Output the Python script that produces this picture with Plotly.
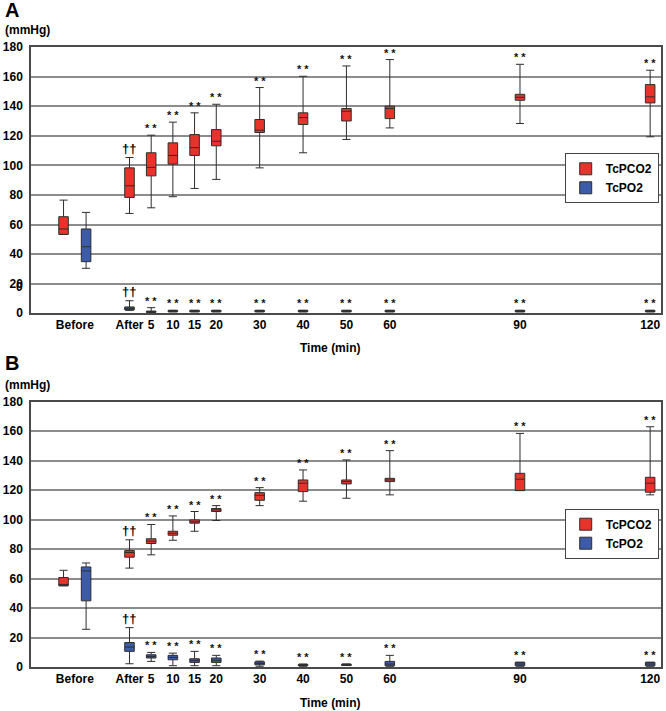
import plotly.graph_objects as go

# ---------------- data ----------------
categories = ["Before", "After", "5", "10", "15", "20", "30", "40", "50", "60", "90", "120"]
time_pos = [-12.6, 0, 5, 10, 15, 20, 30, 40, 50, 60, 90, 120]   # minutes (After = 0)

# Panel A  -- TcPCO2
a_pco2_lo  = [53.3, 67.5, 71.3, 78.8, 84.4, 90.5, 98.3, 108.5, 117.5, 125.3, 128.3, 119.3]
a_pco2_q1  = [53.3, 78.3, 92.9, 100.8, 106.7, 113.2, 122.2, 127.6, 130.0, 131.6, 144.0, 142.2]
a_pco2_med = [57.0, 86.2, 98.6, 106.7, 112.0, 116.3, 123.8, 132.3, 136.6, 138.4, 146.0, 146.3]
a_pco2_q3  = [65.3, 98.3, 108.5, 115.2, 120.8, 124.2, 131.0, 135.5, 138.4, 140.0, 148.0, 154.6]
a_pco2_hi  = [76.5, 105.3, 120.4, 129.2, 135.5, 141.3, 152.6, 160.2, 167.2, 171.5, 168.3, 164.3]

# Panel A  -- TcPO2
a_po2_lo  = [30.4, 2.0, 0.3, 1.0, 1.0, 1.0, 1.0, 1.0, 1.0, 1.0, 1.0, 1.0]
a_po2_q1  = [34.9, 2.3, 0.6, 1.0, 1.0, 1.0, 1.0, 1.0, 1.0, 1.0, 1.0, 1.0]
a_po2_med = [45.0, 3.3, 1.0, 1.5, 1.5, 1.5, 1.5, 1.5, 1.5, 1.5, 1.5, 1.5]
a_po2_q3  = [57.0, 4.3, 1.5, 2.0, 2.0, 2.0, 2.0, 2.0, 2.0, 2.0, 2.0, 2.0]
a_po2_hi  = [68.2, 8.5, 3.8, 2.0, 2.0, 2.0, 2.0, 2.0, 2.0, 2.0, 2.0, 2.0]

# Panel B  -- TcPCO2
b_pco2_lo  = [55.1, 67.1, 76.1, 86.0, 92.1, 99.4, 109.5, 112.5, 114.5, 116.8, 119.7, 116.8]
b_pco2_q1  = [55.1, 74.5, 83.8, 89.4, 97.6, 105.5, 113.1, 119.0, 124.2, 125.8, 119.7, 118.6]
b_pco2_med = [56.0, 77.7, 85.4, 90.8, 98.5, 106.6, 116.5, 124.7, 125.8, 126.9, 127.4, 124.7]
b_pco2_q3  = [60.7, 79.0, 87.0, 92.1, 99.8, 107.5, 118.3, 126.9, 126.9, 128.0, 131.4, 128.7]
b_pco2_hi  = [65.6, 86.3, 96.7, 102.5, 105.5, 109.5, 121.7, 133.7, 140.5, 146.8, 158.5, 163.0]

# Panel B  -- TcPO2
b_po2_lo  = [25.6, 2.2, 3.8, 0.9, 0.9, 0.9, 0.5, 0.5, 1.0, 0.5, 0.5, 0.5]
b_po2_q1  = [44.9, 10.6, 6.1, 4.9, 3.1, 3.1, 1.5, 0.9, 1.0, 0.8, 0.8, 0.8]
b_po2_med = [65.2, 13.5, 7.2, 6.5, 4.3, 4.5, 2.5, 1.3, 1.5, 2.0, 2.0, 2.0]
b_po2_q3  = [67.9, 16.6, 8.3, 7.9, 5.6, 6.1, 3.5, 1.8, 2.0, 3.8, 3.2, 3.2]
b_po2_hi  = [70.6, 26.7, 9.9, 9.4, 10.6, 7.9, 4.0, 2.0, 2.0, 7.9, 3.2, 3.2]

# significance marks
sig_marks = ["", "††", "**", "**", "**", "**", "**", "**", "**", "**", "**", "**"]

y_ticks = [0, 20, 40, 60, 80, 100, 120, 140, 160, 180]

# ---------------- style ----------------
RED = "#e8322a"
BLUE = "#3c5ba8"
EDGE = "#2e2e2e"
FONT = "Liberation Sans, Arial, sans-serif"
BEFORE_OFFSET = 2.6
BOX_W = 2.2

def xs(series):
    out = []
    for cat, p in zip(categories, time_pos):
        if cat == "Before":
            out.append(p - BEFORE_OFFSET if series == "pco2" else p + BEFORE_OFFSET)
        else:
            out.append(p)
    return out

fig = go.Figure()

panels = [
    ("x", "y", "legend", (a_pco2_lo, a_pco2_q1, a_pco2_med, a_pco2_q3, a_pco2_hi),
     (a_po2_lo, a_po2_q1, a_po2_med, a_po2_q3, a_po2_hi)),
    ("x2", "y2", "legend2", (b_pco2_lo, b_pco2_q1, b_pco2_med, b_pco2_q3, b_pco2_hi),
     (b_po2_lo, b_po2_q1, b_po2_med, b_po2_q3, b_po2_hi)),
]

annotations = []
for xa, ya, lg, pco2, po2 in panels:
    for name, series, vals, col in (("TcPCO2", "pco2", pco2, RED), ("TcPO2", "po2", po2, BLUE)):
        lo, q1, med, q3, hi = vals
        xv = xs(series)
        fig.add_trace(go.Box(
            name=name, x=xv, lowerfence=lo, q1=q1, median=med, q3=q3, upperfence=hi,
            fillcolor=col, line=dict(color=EDGE, width=1), width=BOX_W, whiskerwidth=0.85,
            boxpoints=False, xaxis=xa, yaxis=ya, legend=lg, showlegend=True,
            hoverinfo="skip",
        ))
        for x0, top, mark in zip(xv, hi, sig_marks):
            if not mark:
                continue
            if mark == "**":
                annotations.append(dict(x=x0, y=top, xref=xa, yref=ya, text="* *",
                                        showarrow=False, yanchor="bottom", yshift=-1,
                                        font=dict(family=FONT, size=11, color="#111", weight="bold")))
            else:
                annotations.append(dict(x=x0, y=top, xref=xa, yref=ya, text=mark,
                                        showarrow=False, yanchor="bottom", yshift=0,
                                        font=dict(family=FONT, size=13, color="#000", weight="bold")))

# panel labels / units / axis titles
W_PLOT = 633.0
H_PLOT = 620.0
def px_x(p):
    return (p - 30) / W_PLOT
def px_y(p):
    return (667 - p) / H_PLOT

for lab, yl, yu in (("A", 10, 30), ("B", 363, 385)):
    annotations.append(dict(x=px_x(2), y=px_y(yl), xref="paper", yref="paper", text=lab,
                            showarrow=False, xanchor="left", yanchor="middle",
                            font=dict(family=FONT, size=20, color="#000", weight="bold")))
    annotations.append(dict(x=px_x(2), y=px_y(yu), xref="paper", yref="paper", text="(mmHg)",
                            showarrow=False, xanchor="left", yanchor="middle",
                            font=dict(family=FONT, size=12, color="#000", weight="bold")))
for yt in (348, 703):
    annotations.append(dict(x=px_x(330), y=px_y(yt), xref="paper", yref="paper", text="Time (min)",
                            showarrow=False, xanchor="center", yanchor="middle",
                            font=dict(family=FONT, size=12, color="#000", weight="bold")))

# overlapping "0" on the "20" label of panel A (axis-break remnant)
annotations.append(dict(x=0, y=20, xref="paper", yref="y", text="0", showarrow=False,
                        xanchor="right", yanchor="middle", xshift=-6, yshift=-3,
                        font=dict(family=FONT, size=12, color="#000", weight="bold")))

axis_common = dict(
    showline=True, mirror=True, linecolor="#4a4a4a", linewidth=1.5,
    zeroline=False, ticks="",
    tickfont=dict(family=FONT, size=12, color="#000", weight="bold"),
)
xaxis_common = dict(axis_common, range=[-22.7, 122.5], tickmode="array",
                    tickvals=time_pos, ticktext=categories, showgrid=False)
yaxis_common = dict(axis_common, range=[0, 180], tickmode="array", tickvals=y_ticks,
                    ticktext=[str(v) for v in y_ticks], showgrid=True,
                    gridcolor="#8c8c8c", gridwidth=1.5, ticklabelstandoff=4)

legend_common = dict(
    bgcolor="white", bordercolor="#444", borderwidth=1,
    font=dict(family=FONT, size=12, color="#000", weight="bold"),
    xanchor="right", yanchor="top", x=(660.7 - 30) / W_PLOT,
    tracegroupgap=0, itemwidth=30,
)

fig.update_layout(
    width=666, height=711,
    margin=dict(l=30, r=3, t=47, b=44),
    paper_bgcolor="white", plot_bgcolor="white",
    boxmode="overlay",
    xaxis=dict(xaxis_common, domain=[0, 1], anchor="y"),
    yaxis=dict(yaxis_common, domain=[0.5705, 1], anchor="x"),
    xaxis2=dict(xaxis_common, domain=[0, 1], anchor="y2"),
    yaxis2=dict(yaxis_common, domain=[0, 0.4279], anchor="x2"),
    legend=dict(legend_common, y=px_y(153.3)),
    legend2=dict(legend_common, y=px_y(508.7)),
    annotations=annotations,
    showlegend=True,
)

fig.write_html("out.html", config={"displayModeBar": False},
               post_script="document.body.style.margin='0';document.body.style.overflow='hidden';")
